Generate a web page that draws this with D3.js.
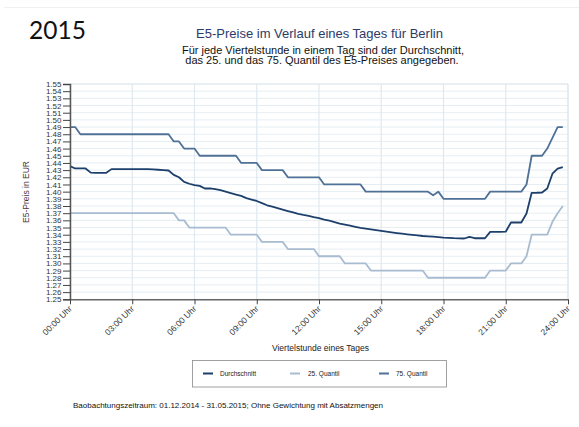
<!DOCTYPE html>
<html><head><meta charset="utf-8">
<script src="https://cdn.jsdelivr.net/npm/d3@7"></script>
<style>body{margin:0;background:#fff}svg{display:block}</style>
</head><body>
<script>
// Quarter-hour index 0..95 (00:00 .. 23:45)
const meanValues = [
1.4356,1.4323,1.4323,1.4323,1.4265,1.4263,1.4263,1.4263,1.4314,1.4314,
1.4314,1.4314,1.4314,1.4314,1.4314,1.4314,1.4310,1.4305,1.4300,1.4295,
1.4233,1.4200,1.4137,1.4110,1.4090,1.4081,1.4044,1.4045,1.4035,1.4020,
1.4000,1.3980,1.3960,1.3940,1.3910,1.3890,1.3870,1.3840,1.3810,1.3790,
1.3770,1.3750,1.3730,1.3710,1.3690,1.3675,1.3663,1.3645,1.3630,1.3610,
1.3595,1.3575,1.3555,1.3540,1.3525,1.3510,1.3495,1.3485,1.3475,1.3463,
1.3452,1.3442,1.3432,1.3423,1.3414,1.3405,1.3397,1.3390,1.3382,1.3377,
1.3372,1.3366,1.3360,1.3356,1.3352,1.3350,1.3347,1.3370,1.3351,1.3351,
1.3351,1.3440,1.3440,1.3440,1.3442,1.3570,1.3570,1.3570,1.3695,1.3984,
1.3985,1.3988,1.4044,1.4250,1.4320,1.4342];
const q25Values = [
1.37,1.37,1.37,1.37,1.37,1.37,1.37,1.37,1.37,1.37,
1.37,1.37,1.37,1.37,1.37,1.37,1.37,1.37,1.37,1.37,
1.37,1.36,1.36,1.35,1.35,1.35,1.35,1.35,1.35,1.35,
1.35,1.34,1.34,1.34,1.34,1.34,1.34,1.33,1.33,1.33,
1.33,1.33,1.32,1.32,1.32,1.32,1.32,1.32,1.31,1.31,
1.31,1.31,1.31,1.30,1.30,1.30,1.30,1.30,1.29,1.29,
1.29,1.29,1.29,1.29,1.29,1.29,1.29,1.29,1.29,1.28,
1.28,1.28,1.28,1.28,1.28,1.28,1.28,1.28,1.28,1.28,
1.28,1.29,1.29,1.29,1.29,1.30,1.30,1.30,1.31,1.34,
1.34,1.34,1.34,1.358,1.37,1.38];
const q75Values = [
1.49,1.49,1.48,1.48,1.48,1.48,1.48,1.48,1.48,1.48,
1.48,1.48,1.48,1.48,1.48,1.48,1.48,1.48,1.48,1.48,
1.47,1.47,1.46,1.46,1.46,1.45,1.45,1.45,1.45,1.45,
1.45,1.45,1.45,1.44,1.44,1.44,1.44,1.43,1.43,1.43,
1.43,1.43,1.42,1.42,1.42,1.42,1.42,1.42,1.42,1.41,
1.41,1.41,1.41,1.41,1.41,1.41,1.41,1.40,1.40,1.40,
1.40,1.40,1.40,1.40,1.40,1.40,1.40,1.40,1.40,1.40,
1.395,1.40,1.39,1.39,1.39,1.39,1.39,1.39,1.39,1.39,
1.39,1.40,1.40,1.40,1.40,1.40,1.40,1.40,1.41,1.45,
1.45,1.45,1.46,1.475,1.49,1.49];
const xTickLabels = ["00:00 Uhr","03:00 Uhr","06:00 Uhr","09:00 Uhr","12:00 Uhr","15:00 Uhr","18:00 Uhr","21:00 Uhr","24:00 Uhr"];
const yTickValues = d3.range(125, 156).map(v => v / 100);
const seriesNames = ["Durchschnitt", "25. Quantil", "75. Quantil"];

const W = 579, H = 427;
const svg = d3.select("body").append("svg").attr("width", W).attr("height", H);
const F = "'Liberation Sans', Arial, sans-serif";

// faint slide border line at top
svg.append("line").attr("x1", 4).attr("x2", W).attr("y1", 7.5).attr("y2", 7.5)
  .attr("stroke", "#eef1f3").attr("stroke-width", 1);

svg.append("text").attr("x", 29).attr("y", 39).attr("font-family", "Lato, 'Open Sans', sans-serif")
  .attr("font-size", 24.5).attr("fill", "#111").text("2015");

svg.append("text").attr("x", 319.5).attr("y", 37.5).attr("text-anchor", "middle")
  .attr("font-family", F).attr("font-size", 13).attr("fill", "#2c3b6a")
  .text("E5-Preise im Verlauf eines Tages für Berlin");
svg.append("text").attr("x", 323).attr("y", 54).attr("text-anchor", "middle")
  .attr("font-family", F).attr("font-size", 11).attr("fill", "#111")
  .text("Für jede Viertelstunde in einem Tag sind der Durchschnitt,");
svg.append("text").attr("x", 322).attr("y", 64.3).attr("text-anchor", "middle")
  .attr("font-family", F).attr("font-size", 11).attr("fill", "#111")
  .text("das 25. und das 75. Quantil des E5-Preises angegeben.");

const x = d3.scaleLinear().domain([0, 96]).range([70, 568]);
const y = d3.scaleLinear().domain([1.25, 1.55]).range([299.3, 84]);

// grid
const g = svg.append("g");
g.selectAll(".hg").data(yTickValues).join("line")
  .attr("x1", 70).attr("x2", 568).attr("y1", d => y(d)).attr("y2", d => y(d))
  .attr("stroke", "#e6eef3").attr("stroke-width", 1);
g.selectAll(".vg").data(xTickLabels).join("line")
  .attr("x1", (d, i) => x(i * 12)).attr("x2", (d, i) => x(i * 12))
  .attr("y1", 84).attr("y2", 299.3)
  .attr("stroke", "#dfe9ef").attr("stroke-width", 1.2);
// top / right border
svg.append("path").attr("d", `M70,84H568V299.3`).attr("fill", "none")
  .attr("stroke", "#dfe6ea").attr("stroke-width", 1);

// lines
const line = d3.line().x((d, i) => x(i)).y(d => y(d));
const series = [
  {name: seriesNames[2], values: q75Values, color: "#4f7196"},
  {name: seriesNames[1], values: q25Values, color: "#a8bcd1"},
  {name: seriesNames[0], values: meanValues, color: "#1d3f6b"}
];
series.forEach(s => {
  svg.append("path").datum(s.values).attr("d", line).attr("fill", "none")
    .attr("stroke", s.color).attr("stroke-width", 1.8).attr("stroke-linejoin", "round");
});

// axes
const yAxis = d3.axisLeft(y).tickValues(yTickValues).tickFormat(d3.format(".2f")).tickSize(7).tickPadding(1.5);
const ya = svg.append("g").attr("transform", "translate(70,0)").call(yAxis);
ya.selectAll("text").attr("font-family", F).attr("font-size", 8).attr("fill", "#333");
ya.selectAll("line").attr("stroke", "#444");
ya.select(".domain").attr("stroke", "#555").attr("stroke-width", 1.5);

const xAxis = d3.axisBottom(x).tickValues(d3.range(0, 97, 12))
  .tickFormat((d, i) => xTickLabels[i]).tickSize(5).tickSizeOuter(0);
const xa = svg.append("g").attr("transform", "translate(0,299.3)").call(xAxis);
xa.select(".domain").attr("stroke", "#666").attr("stroke-width", 1.5);
xa.selectAll("line").attr("stroke", "#444");
xa.selectAll("text").attr("font-family", F).attr("font-size", 8.5).attr("fill", "#333")
  .attr("text-anchor", "end").attr("dy", 0).attr("y", 0)
  .attr("transform", "translate(2,10) rotate(-45)");

svg.append("text").attr("transform", "translate(29,192) rotate(-90)").attr("text-anchor", "middle")
  .attr("font-family", F).attr("font-size", 8.5).attr("fill", "#4a3a3a").text("E5-Preis in EUR");
svg.append("text").attr("x", 320.5).attr("y", 351).attr("text-anchor", "middle")
  .attr("font-family", F).attr("font-size", 8.5).attr("fill", "#222").text("Viertelstunde eines Tages");

// legend
svg.append("rect").attr("x", 192.5).attr("y", 360.5).attr("width", 254).attr("height", 26.5)
  .attr("fill", "#fff").attr("stroke", "#8a8a8a").attr("stroke-width", 0.8);
const legendItems = [
  {name: seriesNames[0], color: "#1d3f6b", lx: 203, tx: 220},
  {name: seriesNames[1], color: "#a8bcd1", lx: 290, tx: 308},
  {name: seriesNames[2], color: "#4f7196", lx: 379, tx: 396}
];
legendItems.forEach(l => {
  svg.append("line").attr("x1", l.lx).attr("x2", l.lx + 10).attr("y1", 373.5).attr("y2", 373.5)
    .attr("stroke", l.color).attr("stroke-width", 2);
  svg.append("text").attr("x", l.tx).attr("y", 376).attr("font-family", F).attr("font-size", 6.5)
    .attr("fill", "#222").text(l.name);
});

svg.append("text").attr("x", 73).attr("y", 408).attr("font-family", F).attr("font-size", 8)
  .attr("fill", "#111").text("Baobachtungszeitraum: 01.12.2014 - 31.05.2015; Ohne Gewichtung mit Absatzmengen");
</script>
</body></html>
